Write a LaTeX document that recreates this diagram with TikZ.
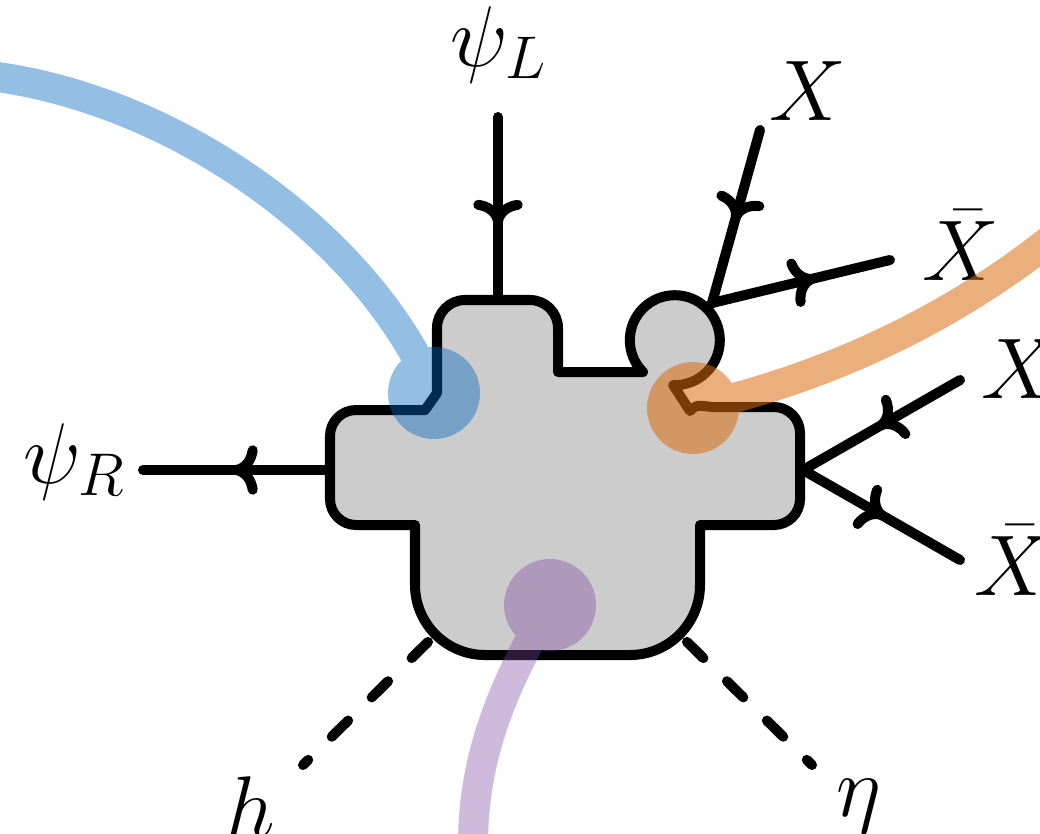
\documentclass[tikz,border=0pt]{standalone}
\usepackage{fix-cm}
\usetikzlibrary{arrows.meta, decorations.markings}

\definecolor{flowblue}{RGB}{0,102,190}
\definecolor{floworange}{RGB}{218,108,18}
\definecolor{flowpurple}{RGB}{123,68,164}
\definecolor{blobgray}{RGB}{204,204,204}

\begin{document}
\begin{tikzpicture}[
		x=0.01cm, y=-0.01cm,
		font=\fontsize{24.5}{29}\selectfont,
		line width=2.85pt,
		fermion/.style={
			line cap=round, postaction={decorate},
			decoration={markings, mark=at position #1 with {
					\draw[line cap=round, line join=round]
					(-4.6pt,5.6pt) .. controls (-4.2pt,2.7pt) and (-2.5pt,0.5pt) .. (0pt,0pt)
					.. controls (-2.5pt,-0.5pt) and (-4.2pt,-2.7pt) .. (-4.6pt,-5.6pt);}}
		},
		fermion/.default=0.5,
		scalar/.style={line cap=round, dash pattern=on 0.23cm off 0.33cm, dash phase=0.49cm},
		blob/.style={fill=blobgray, draw=black, line join=round},
		flow/.style={line width=0.3cm, line cap=butt}
		]
		
		\path[use as bounding box, clip] (0,0) rectangle (1040,833);
		
		% Labels
		\node[anchor=base] (psiL) at (499,66) {$\psi_L$};
		\node[anchor=base] (psiR) at (75,483) {$\psi_R$};
		\node[anchor=base] (xa) at (808,120) {$X$};
		\node[anchor=base] (xbara) at (961,280) {$\bar{X}$};
		\node[anchor=base] (xb) at (1020,398) {$X$};
		\node[anchor=base] (xbarb) at (1013,595) {$\bar{X}$};
		\node[anchor=base] (hlab) at (251,836) {$h$};
		\node[anchor=base] (etalab) at (859,816) {$\eta$};
		
		% Line ends
		\coordinate (psiLend) at (498,117);
		\coordinate (psiRend) at (143,470);
		\coordinate (xaend) at (760,130);
		\coordinate (xbaraend) at (890,260);
		\coordinate (xbend) at (960,380);
		\coordinate (xbarbend) at (960,560);
		\coordinate (hend) at (303,765);
		\coordinate (etaend) at (812,765);
		
		% Vertices on the blob
		\coordinate (vT) at (498,325);
		\coordinate (vL) at (330,470);
		\coordinate (vC) at (712,303);
		\coordinate (vR) at (803,470);
		\coordinate (vBL) at (433,637);
		\coordinate (vBR) at (682,637);
		
		% External legs
		\draw[fermion] (psiLend) -- (vT);
		\draw[fermion] (vL) -- (psiRend);
		\draw[fermion] (xaend) -- (vC);
		\draw[fermion=0.56] (vC) -- (xbaraend);
		\draw[fermion] (xbend) -- (vR);
		\draw[fermion] (vR) -- (xbarbend);
		\draw[scalar] (vBL) -- (hend);
		\draw[scalar] (vBR) -- (etaend);
		
		% Blob
		\draw[blob] (437,393) [rounded corners=0.28cm] -- (437,300) -- (558,300)
		[sharp corners] -- (558,372) -- (643,372) arc[start angle=135, end angle=452, radius=45]
		-- (690,411) .. controls (696,405) .. (712,407)
		[rounded corners=0.26cm] -- (800,407) -- (800,525)
		[sharp corners] -- (700,525)
		[rounded corners=0.7cm] -- (700,655) -- (415,655)
		[sharp corners] -- (415,525)
		[rounded corners=0.26cm] -- (330,525) -- (330,410)
		[sharp corners] -- (425,410) -- cycle;
		
		% Flows
		\coordinate (bdot) at (434,393);
		\coordinate (odot) at (693,408);
		\coordinate (pdot) at (550,605);
		\begin{scope}[transparency group, opacity=0.42]
			\draw[flow, flowblue] (-10,76) .. controls (180,100) and (370,240) .. (bdot);
			\fill[flowblue] (bdot) circle[radius=46];
		\end{scope}
		\begin{scope}[transparency group, opacity=0.55]
			\draw[flow, floworange] (odot) .. controls (820,380) and (950,322) .. (1060,232);
			\fill[floworange] (odot) circle[radius=46];
		\end{scope}
		\begin{scope}[transparency group, opacity=0.37]
			\draw[flow, flowpurple] (pdot) .. controls (500,690) and (473,760) .. (473,845);
			\fill[flowpurple] (pdot) circle[radius=46];
		\end{scope}
		
	\end{tikzpicture}
\end{document}
